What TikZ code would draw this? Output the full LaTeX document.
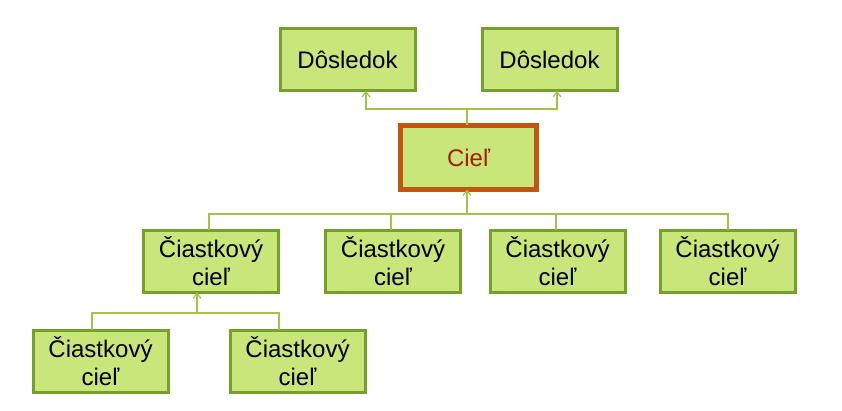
\documentclass[tikz,border=0pt]{standalone}
\usepackage{fontspec}
\setmainfont{Liberation Sans}
\usetikzlibrary{arrows.meta}
\definecolor{boxfill}{HTML}{C8E67A}
\definecolor{boxline}{HTML}{76A02C}
\definecolor{conn}{HTML}{A3C247}
\definecolor{goalline}{HTML}{C0560F}
\definecolor{goaltext}{HTML}{A81C00}
\begin{document}
\begin{tikzpicture}[x=1pt,y=-1pt,
  box/.style={draw=boxline,fill=boxfill,line width=3pt,minimum width=135pt,minimum height=62pt,
    inner sep=0pt,align=center,font=\fontsize{24}{28}\selectfont},
  goal/.style={box,draw=goalline,line width=5pt,minimum width=136pt,minimum height=64pt,text=goaltext},
  conline/.style={draw=conn,line width=1.2pt},
  arr/.style={conline,-{Straight Barb[length=5pt,width=8pt]}}]
\useasboundingbox (0,0) rectangle (842,411);
\node[box] (d1) at (347.5,60) {Dôsledok};
\node[box] (d2) at (549.5,60) {Dôsledok};
\node[goal] (g) at (468.5,157.5) {Cieľ};
\node[box] (b1) at (211,261.5) {Čiastkový\\cieľ};
\node[box] (b2) at (393,261.5) {Čiastkový\\cieľ};
\node[box] (b3) at (557.5,261.5) {Čiastkový\\cieľ};
\node[box] (b4) at (727.5,261.5) {Čiastkový\\cieľ};
\node[box] (c1) at (100.5,361) {Čiastkový\\cieľ};
\node[box] (c2) at (297.5,361) {Čiastkový\\cieľ};
% top connectors
\coordinate (t) at (467,109);
\draw[conline] ([xshift=-1.5pt,yshift=-2.5pt]g.north) -- (t);
\draw[arr] (t) -| ([xshift=18.5pt,yshift=1.5pt]d1.south);
\draw[arr] (t) -| ([xshift=7.5pt,yshift=1.5pt]d2.south);
% row 2 connectors
\coordinate (m) at (467,214);
\draw[arr] (m) -- ([xshift=-1.5pt,yshift=2.5pt]g.south);
\draw[conline] ([xshift=-2pt,yshift=-1.5pt]b1.north) |- ([xshift=0.5pt]m -| b4.north) -- ([xshift=0.5pt,yshift=-1.5pt]b4.north);
\draw[conline] ([xshift=-2pt]m -| b2.north) -- ([xshift=-2pt,yshift=-1.5pt]b2.north);
\draw[conline] ([xshift=-1.5pt]m -| b3.north) -- ([xshift=-1.5pt,yshift=-1.5pt]b3.north);
% row 3 connectors
\coordinate (l) at (197,313);
\draw[arr] (l) -- ([xshift=-14pt,yshift=1.5pt]b1.south);
\draw[conline] ([xshift=-8.5pt,yshift=-1.5pt]c1.north) |- (l) -| ([xshift=-18.5pt,yshift=-1.5pt]c2.north);
\end{tikzpicture}
\end{document}
